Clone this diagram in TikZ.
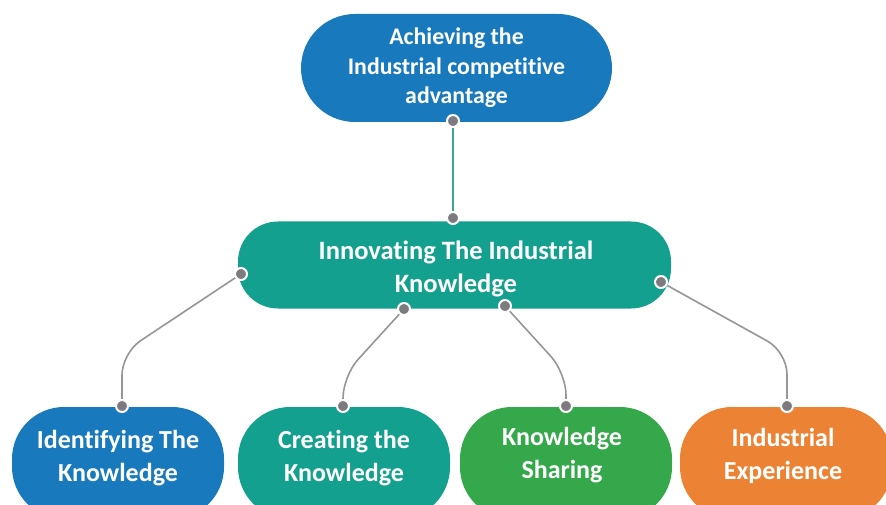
\documentclass[tikz,border=0pt]{standalone}
\usepackage{fontspec}
\setmainfont[Ligatures=NoCommon]{Carlito}
\definecolor{cblue}{RGB}{24,121,189}
\definecolor{cteal}{RGB}{20,160,142}
\definecolor{cgreen}{RGB}{52,168,74}
\definecolor{corange}{RGB}{236,131,52}
\definecolor{cline}{RGB}{150,150,150}
\definecolor{cdot}{RGB}{125,122,128}
\definecolor{ctealline}{RGB}{60,165,155}
\begin{document}
\begin{tikzpicture}[x=1pt,y=-1pt,
  box/.style={rectangle, inner sep=0pt, text=white, align=center},
  topbox/.style={box, minimum width=311pt, minimum height=108pt, rounded corners=54pt, font=\bfseries\fontsize{23.8}{29.5}\selectfont},
  midbox/.style={box, minimum width=433pt, minimum height=87pt, rounded corners=40pt},
  botbox/.style={box, minimum width=212pt, minimum height=112pt, rounded corners=52pt},
  boxtext/.style={text=white, align=center, inner sep=0pt, font=\bfseries\fontsize{26}{33}\selectfont},
  dotnode/.style={circle, fill=cdot, draw=white, line width=2pt, minimum size=12pt, inner sep=0pt},
  conn/.style={draw=cline, line width=1.6pt, rounded corners=22pt},
]
\useasboundingbox (0,0) rectangle (886,505);
\clip (0,0) rectangle (886,505);
\fill[white] (0,0) rectangle (886,505);

% boxes
\node[topbox, fill=cblue] (top) at (456.5,68) {Achieving the\\Industrial competitive\\advantage};
\node[midbox, fill=cteal] (mid) at (454.5,265) {};
\node[boxtext, font=\bfseries\fontsize{26.5}{33}\selectfont] (mt) at (456,269) {Innovating The Industrial\\Knowledge};
\node[botbox, fill=cblue] (b1) at (118,463) {};
\node[botbox, fill=cteal] (b2) at (344,463) {};
\node[botbox, fill=cgreen] (b3) at (566,463) {};
\node[botbox, fill=corange] (b4) at (786,463) {};
\node[boxtext] (t1) at (118,458) {Identifying The\\Knowledge};
\node[boxtext] (t2) at (344,458) {Creating the\\Knowledge};
\node[boxtext] (t3) at (562,455) {Knowledge\\Sharing};
\node[boxtext] (t4) at (783,456) {Industrial\\Experience};

% connector end points
\coordinate (pT) at (453,121);
\coordinate (pM) at (453,218);
\coordinate (pL) at (241,274);
\coordinate (pR) at (661,282);
\coordinate (pB1) at (404,309);
\coordinate (pB2) at (505,306);
\coordinate (q1) at (122,406);
\coordinate (q2) at (343,406);
\coordinate (q3) at (566,406);
\coordinate (q4) at (787,406);

% connectors
\draw[draw=ctealline, line width=1.6pt] (pT) -- (pM);
\draw[conn] (pL) -- (122,353) -- (q1);
\draw[conn] (pB1) -- (343,376) -- (q2);
\draw[conn] (pB2) -- (566,373) -- (q3);
\draw[conn] (pR) -- (787,352) -- (q4);

% dots
\foreach \p in {pT,pM,pL,pR,pB1,pB2,q1,q2,q3,q4}
  \node[dotnode] (dot-\p) at (\p) {};
\end{tikzpicture}
\end{document}
